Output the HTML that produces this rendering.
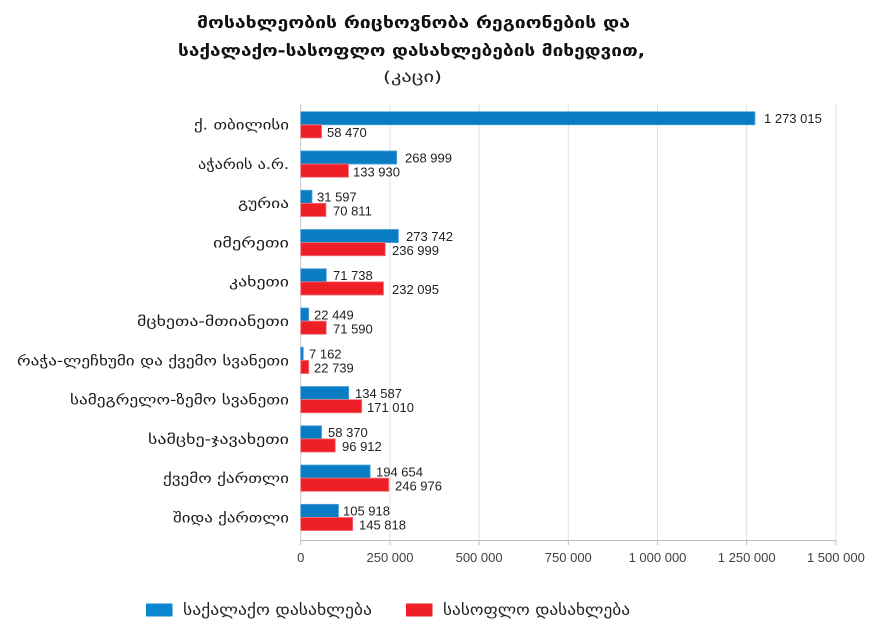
<!DOCTYPE html>
<html>
<head>
<meta charset="utf-8">
<style>
html,body{margin:0;padding:0;background:#fff;}
svg{display:block;}
.cat{font-family:"DejaVu Sans","Liberation Sans",sans-serif;font-size:14px;fill:#1a1a1a;}
.val{font-family:"Liberation Sans",sans-serif;font-size:13px;fill:#222;}
.tick{font-family:"Liberation Sans",sans-serif;font-size:13px;fill:#404040;}
.title{font-family:"DejaVu Sans","Liberation Sans",sans-serif;font-size:16px;font-weight:bold;fill:#111;}
.sub{font-family:"DejaVu Sans","Liberation Sans",sans-serif;font-size:15px;fill:#222;}
.leg{font-family:"DejaVu Sans","Liberation Sans",sans-serif;font-size:15px;fill:#222;}
</style>
</head>
<body>
<svg width="877" height="639" viewBox="0 0 877 639" xmlns="http://www.w3.org/2000/svg">
<rect width="877" height="639" fill="#fff"/>
<!-- Title -->
<text class="title" x="197" y="28" textLength="433" lengthAdjust="spacingAndGlyphs">მოსახლეობის რიცხოვნობა რეგიონების და</text>
<text class="title" x="178" y="56" textLength="467" lengthAdjust="spacingAndGlyphs">საქალაქო-სასოფლო დასახლებების მიხედვით,</text>
<text class="sub" x="383" y="82" textLength="59" lengthAdjust="spacingAndGlyphs">(კაცი)</text>

<!-- Gridlines -->
<g stroke="#e0e0e0" stroke-width="1">
<line x1="390" y1="104" x2="390" y2="540"/>
<line x1="479.1" y1="104" x2="479.1" y2="540"/>
<line x1="568.3" y1="104" x2="568.3" y2="540"/>
<line x1="657.5" y1="104" x2="657.5" y2="540"/>
<line x1="746.7" y1="104" x2="746.7" y2="540"/>
<line x1="835.9" y1="104" x2="835.9" y2="540"/>
</g>
<line x1="300.7" y1="104" x2="300.7" y2="540" stroke="#c8c8c8" stroke-width="1"/>
<line x1="300.7" y1="540.5" x2="836" y2="540.5" stroke="#bdbdbd" stroke-width="1"/>
<g stroke="#bdbdbd" stroke-width="1">
<line x1="300.7" y1="540" x2="300.7" y2="545"/>
<line x1="390" y1="540" x2="390" y2="545"/>
<line x1="479.1" y1="540" x2="479.1" y2="545"/>
<line x1="568.3" y1="540" x2="568.3" y2="545"/>
<line x1="657.5" y1="540" x2="657.5" y2="545"/>
<line x1="746.7" y1="540" x2="746.7" y2="545"/>
<line x1="835.9" y1="540" x2="835.9" y2="545"/>
</g>
<!-- Tick labels -->
<g class="tick" text-anchor="middle">
<text x="300.7" y="562">0</text>
<text x="390" y="562">250 000</text>
<text x="479.1" y="562">500 000</text>
<text x="568.3" y="562">750 000</text>
<text x="657.5" y="562">1 000 000</text>
<text x="746.7" y="562">1 250 000</text>
<text x="835.9" y="562">1 500 000</text>
</g>

<!-- Category labels -->
<g class="cat" text-anchor="end">
<text x="289" y="129.7" textLength="95" lengthAdjust="spacingAndGlyphs">ქ. თბილისი</text>
<text x="289" y="169" textLength="91" lengthAdjust="spacingAndGlyphs">აჭარის ა.რ.</text>
<text x="289" y="208.2" textLength="51" lengthAdjust="spacingAndGlyphs">გურია</text>
<text x="289" y="247.5" textLength="76" lengthAdjust="spacingAndGlyphs">იმერეთი</text>
<text x="289" y="286.7" textLength="60" lengthAdjust="spacingAndGlyphs">კახეთი</text>
<text x="289" y="326" textLength="152" lengthAdjust="spacingAndGlyphs">მცხეთა-მთიანეთი</text>
<text x="289" y="365.3" textLength="272" lengthAdjust="spacingAndGlyphs">რაჭა-ლეჩხუმი და ქვემო სვანეთი</text>
<text x="289" y="404.5" textLength="219" lengthAdjust="spacingAndGlyphs">სამეგრელო-ზემო სვანეთი</text>
<text x="289" y="443.8" textLength="141" lengthAdjust="spacingAndGlyphs">სამცხე-ჯავახეთი</text>
<text x="289" y="483" textLength="126" lengthAdjust="spacingAndGlyphs">ქვემო ქართლი</text>
<text x="289" y="522.3" textLength="116" lengthAdjust="spacingAndGlyphs">შიდა ქართლი</text>
</g>

<!-- Bars -->
<g fill="#0a7cc4" stroke="#4ea3da" stroke-width="0.8">
<rect x="300.7" y="111.7" width="454.2" height="13.1"/>
<rect x="300.7" y="150.96" width="95.98" height="13.1"/>
<rect x="300.7" y="190.22" width="11.27" height="13.1"/>
<rect x="300.7" y="229.48" width="97.67" height="13.1"/>
<rect x="300.7" y="268.74" width="25.6" height="13.1"/>
<rect x="300.7" y="308" width="8.01" height="13.1"/>
<rect x="300.7" y="347.26" width="2.56" height="13.1"/>
<rect x="300.7" y="386.52" width="48.02" height="13.1"/>
<rect x="300.7" y="425.78" width="20.83" height="13.1"/>
<rect x="300.7" y="465.04" width="69.45" height="13.1"/>
<rect x="300.7" y="504.3" width="37.79" height="13.1"/>
</g>
<g fill="#ee1f27" stroke="#f27a80" stroke-width="0.8">
<rect x="300.7" y="124.8" width="20.86" height="13.2"/>
<rect x="300.7" y="164.06" width="47.79" height="13.2"/>
<rect x="300.7" y="203.32" width="25.27" height="13.2"/>
<rect x="300.7" y="242.58" width="84.56" height="13.2"/>
<rect x="300.7" y="281.84" width="82.81" height="13.2"/>
<rect x="300.7" y="321.1" width="25.54" height="13.2"/>
<rect x="300.7" y="360.36" width="8.11" height="13.2"/>
<rect x="300.7" y="399.62" width="61.02" height="13.2"/>
<rect x="300.7" y="438.88" width="34.58" height="13.2"/>
<rect x="300.7" y="478.14" width="88.12" height="13.2"/>
<rect x="300.7" y="517.4" width="52.03" height="13.2"/>
</g>

<!-- Value labels -->
<g class="val">
<text x="764" y="123">1 273 015</text>
<text x="327" y="137">58 470</text>
<text x="405" y="162.3">268 999</text>
<text x="353" y="176.3">133 930</text>
<text x="317" y="201.5">31 597</text>
<text x="333" y="215.5">70 811</text>
<text x="406" y="240.8">273 742</text>
<text x="392" y="254.8">236 999</text>
<text x="333" y="280">71 738</text>
<text x="392" y="294">232 095</text>
<text x="314" y="319.3">22 449</text>
<text x="333" y="333.3">71 590</text>
<text x="309" y="358.6">7 162</text>
<text x="314" y="372.6">22 739</text>
<text x="355" y="397.8">134 587</text>
<text x="367" y="411.8">171 010</text>
<text x="328" y="437.1">58 370</text>
<text x="342" y="451.1">96 912</text>
<text x="376" y="476.3">194 654</text>
<text x="395" y="490.3">246 976</text>
<text x="343" y="515.6">105 918</text>
<text x="359" y="529.6">145 818</text>
</g>

<!-- Legend -->
<rect x="146" y="603.5" width="26.5" height="13" fill="#0b86d0"/>
<text class="leg" x="183" y="615" textLength="189" lengthAdjust="spacingAndGlyphs">საქალაქო დასახლება</text>
<rect x="406" y="603.5" width="26.5" height="13" fill="#ee1f27"/>
<text class="leg" x="443" y="615" textLength="187" lengthAdjust="spacingAndGlyphs">სასოფლო დასახლება</text>
</svg>
</body>
</html>
